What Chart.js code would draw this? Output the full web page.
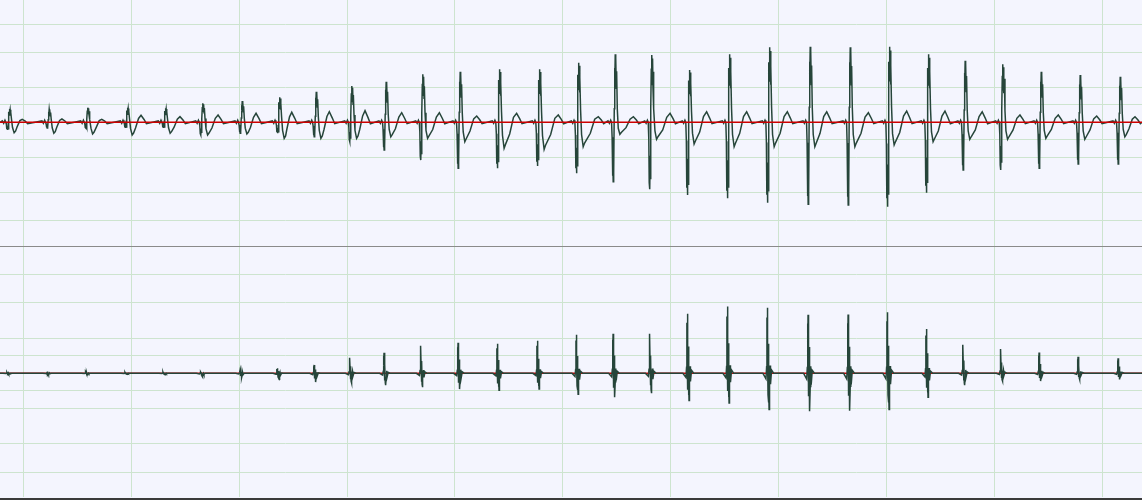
<!DOCTYPE html>
<html>
<head>
<meta charset="utf-8">
<script src="https://cdn.jsdelivr.net/npm/chart.js@4.4.1/dist/chart.umd.min.js"></script>
<style>
  html, body { margin: 0; padding: 0; background: #f4f5fe; }
  #wrap { position: relative; width: 1142px; height: 500px; overflow: hidden; background: #f4f5fe; }
  #top { position: absolute; left: 0; top: 0; width: 1142px; height: 246px; }
  #bot { position: absolute; left: 0; top: 247px; width: 1142px; height: 250px; }
  #sep { position: absolute; left: 0; top: 246px; width: 1142px; height: 1px; background: #8a8a8a; }
  #bottomLine { position: absolute; left: 0; top: 498px; width: 1142px; height: 2px; background: #3a3a3a; }
</style>
</head>
<body>
<div id="wrap">
  <div id="top"><canvas id="cTop" width="1142" height="246"></canvas></div>
  <div id="sep"></div>
  <div id="bot"><canvas id="cBot" width="1142" height="250"></canvas></div>
  <div id="bottomLine"></div>
</div>
<script>
// ---- Data (time in s, amplitude in mV) ----
const xTicks = [0, 1, 2, 3, 4, 5, 6, 7, 8, 9, 10];
const yTicks = [-1.4, -1, -0.5, -0.25, 0, 0.25, 0.5, 1, 1.4];

const beatTime = [-0.130, 0.238, 0.597, 0.964, 1.316, 1.663, 2.027, 2.373, 2.713, 3.044,
                  3.361, 3.702, 4.047, 4.411, 4.782, 5.144, 5.484, 5.824, 6.172, 6.543,
                  6.914, 7.291, 7.662, 8.026, 8.387, 8.727, 9.077, 9.432, 9.793, 10.164];

// upper lead
const rTop = [0.19, 0.186, 0.209, 0.209, 0.20, 0.271, 0.304, 0.357, 0.437, 0.519,
              0.58, 0.686, 0.723, 0.757, 0.757, 0.851, 0.971, 0.961, 0.747, 0.971,
              1.071, 1.08, 1.071, 1.08, 0.971, 0.88, 0.829, 0.723, 0.676, 0.651];
const sTop = [-0.11, -0.081, -0.081, -0.081, -0.081, -0.181, -0.157, -0.157, -0.206, -0.277,
              -0.396, -0.539, -0.657, -0.657, -0.624, -0.729, -0.849, -0.957, -1.039, -1.086,
              -1.149, -1.171, -1.181, -1.206, -1.006, -0.681, -0.681, -0.657, -0.596, -0.596];
const aTop = [-0.149, -0.157, -0.167, -0.181, -0.157, -0.181, -0.167, -0.229, -0.229, -0.229,
              -0.206, -0.229, -0.277, -0.371, -0.386, -0.349, -0.171, -0.243, -0.31, -0.349,
              -0.349, -0.349, -0.349, -0.324, -0.277, -0.243, -0.243, -0.229, -0.243, -0.206];
const tTop = [0.043, 0.047, 0.043, 0.10, 0.08, 0.104, 0.129, 0.143, 0.151, 0.166,
              0.137, 0.137, 0.09, 0.129, 0.104, 0.08, 0.08, 0.129, 0.151, 0.151,
              0.151, 0.151, 0.137, 0.161, 0.161, 0.151, 0.104, 0.104, 0.09, 0.08];
const tLag = [0.12, 0.12, 0.13, 0.127, 0.136, 0.142, 0.13, 0.115, 0.123, 0.123,
              0.146, 0.154, 0.155, 0.161, 0.176, 0.185, 0.17, 0.17, 0.161, 0.161,
              0.167, 0.155, 0.17, 0.161, 0.155, 0.16, 0.16, 0.16, 0.155, 0.139];

// lower lead
const rBot = [0.015, 0.01, 0.02, 0.015, 0.02, 0.019, 0.043, 0.071, 0.119, 0.219,
              0.29, 0.39, 0.433, 0.419, 0.461, 0.547, 0.561, 0.561, 0.843, 0.947,
              0.929, 0.829, 0.833, 0.866, 0.629, 0.404, 0.343, 0.294, 0.233, 0.214];
const sBot = [-0.01, -0.015, -0.02, -0.015, -0.02, -0.053, -0.063, -0.086, -0.124, -0.139,
              -0.167, -0.196, -0.224, -0.239, -0.224, -0.296, -0.339, -0.281, -0.386, -0.42,
              -0.514, -0.539, -0.529, -0.514, -0.339, -0.167, -0.11, -0.11, -0.086, -0.086];

const xMin = -0.216, xMax = 10.368;

// ---- Build series from the beat values ----
function topSeries() {
  const pts = [{x: xMin, y: 0}];
  for (let i = 0; i < beatTime.length; i++) {
    const t = beatTime[i], R = rTop[i], S = sTop[i], A = aTop[i], T = tTop[i], L = tLag[i];
    const seg = [
      [t - 0.065, 0.02], [t - 0.052, -0.015], [t - 0.040, 0.03], [t - 0.032, 0.0],
      [t - 0.027, 0.25 * S], [t - 0.023, 0.9 * S], [t - 0.020, 0.55 * S], [t - 0.017, S],
      [t - 0.014, 0.5 * S], [t - 0.011, 0.85 * S],
      [t - 0.007, 0.2 * R], [t - 0.004, 0.8 * R], [t - 0.001, 0.55 * R], [t + 0.002, R],
      [t + 0.005, 0.7 * R], [t + 0.008, 0.95 * R], [t + 0.012, 0.5 * R], [t + 0.015, 0.75 * R],
      [t + 0.021, 0.2 * R], [t + 0.030, 0.5 * A], [t + 0.045, A], [t + 0.058, 0.85 * A],
      [t + L * 0.6, 0.45 * A], [t + L * 0.82, 0.55 * T], [t + L, T],
      [t + L + 0.028, 0.4 * T], [t + L + 0.05, -0.02]
    ];
    seg.forEach(p => { if (p[0] > xMin) pts.push({x: p[0], y: p[1]}); });
  }
  pts.push({x: xMax, y: 0});
  return pts;
}
function botSeries() {
  const pts = [{x: xMin, y: 0}];
  for (let i = 0; i < beatTime.length; i++) {
    const c = beatTime[i] - 0.019, R = rBot[i], S = sBot[i];
    const seg = [
      [c - 0.04, 0], [c - 0.012, 0.15 * S], [c - 0.006, 0.1 * R], [c - 0.003, 0.85 * R], [c - 0.001, 0.4 * R], [c + 0.001, R],
      [c + 0.004, 0.25 * R], [c + 0.007, 0.6 * S], [c + 0.010, 0.45 * R], [c + 0.013, 0.8 * S], [c + 0.015, 0.3 * S], [c + 0.017, S],
      [c + 0.021, 0.35 * S], [c + 0.026, 0.12 * R], [c + 0.03, 0.3 * S], [c + 0.04, 0.05 * R], [c + 0.06, 0]
    ];
    seg.forEach(p => { if (p[0] > xMin) pts.push({x: p[0], y: p[1]}); });
  }
  pts.push({x: xMax, y: 0});
  return pts;
}

const gridColor = '#cde4cf';
function scales(yMin, yMax) {
  return {
    x: {
      type: 'linear', min: xMin, max: xMax,
      ticks: { display: false },
      grid: { color: gridColor, lineWidth: 1, drawTicks: false },
      border: { display: false },
      afterBuildTicks: s => { s.ticks = xTicks.map(v => ({value: v})); }
    },
    y: {
      type: 'linear', min: yMin, max: yMax,
      ticks: { display: false },
      grid: { color: gridColor, lineWidth: 1, drawTicks: false },
      border: { display: false },
      afterBuildTicks: s => { s.ticks = yTicks.map(v => ({value: v})); }
    }
  };
}
const common = {
  responsive: false, animation: false, events: [],
  layout: { padding: 0 },
  plugins: { legend: { display: false }, tooltip: { enabled: false } },
  elements: { point: { radius: 0 }, line: { tension: 0 } }
};

new Chart(document.getElementById('cTop'), {
  type: 'line',
  data: { datasets: [
    { data: [{x: xMin, y: 0}, {x: xMax, y: 0}], borderColor: '#cc0000', borderWidth: 1.6, order: 0 },
    { data: topSeries(), borderColor: '#26453a', borderWidth: 1.5, order: 1 }
  ]},
  options: Object.assign({}, common, { scales: scales(-1.767, 1.747) })
});

new Chart(document.getElementById('cBot'), {
  type: 'line',
  data: { datasets: [
    { data: botSeries(), borderColor: '#26453a', borderWidth: 1.5, order: 0 },
    { data: [{x: xMin, y: 0}, {x: xMax, y: 0}], borderColor: '#cc0000', borderWidth: 1.6, order: 1 }
  ]},
  options: Object.assign({}, common, { scales: scales(-1.753, 1.79) })
});
</script>
</body>
</html>
